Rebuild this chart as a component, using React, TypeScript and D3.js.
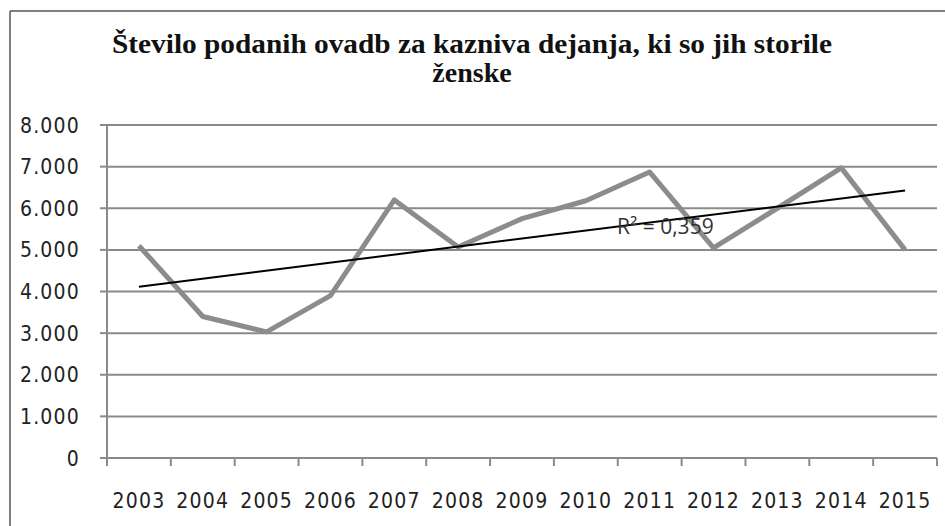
import React from "react";
import * as d3 from "d3";

const years = ["2003","2004","2005","2006","2007","2008","2009","2010","2011","2012","2013","2014","2015"];
const values = [5100, 3400, 3030, 3900, 6200, 5070, 5750, 6180, 6870, 5050, 6000, 6970, 5000];
const yTicks = [0, 1000, 2000, 3000, 4000, 5000, 6000, 7000, 8000];
const titleLines = ["Število podanih ovadb za kazniva dejanja, ki so jih storile", "ženske"];
const r2Label = "R² = 0,359";

const W = 945, H = 526;
const left = 107, right = 937, top = 125, bottom = 458;
const labelFont = "'Liberation Sans Narrow', 'DejaVu Sans Condensed', 'Liberation Sans', sans-serif";

const fmt = (v: number) => (v === 0 ? "0" : d3.format(",")(v).replace(/,/g, "."));

export default function App() {
  const x = d3.scaleBand<string>().domain(years).range([left, right]);
  const y = d3.scaleLinear().domain([0, 8000]).range([bottom, top]);
  const cx = (d: string) => (x(d) as number) + x.bandwidth() / 2;

  const line = d3.line<number>().x((_, i) => cx(years[i])).y((d) => y(d));

  // linear regression
  const n = values.length;
  const xs = values.map((_, i) => i + 1);
  const mx = d3.mean(xs) as number;
  const my = d3.mean(values) as number;
  let sxy = 0, sxx = 0;
  xs.forEach((xi, i) => { sxy += (xi - mx) * (values[i] - my); sxx += (xi - mx) ** 2; });
  const slope = sxy / sxx;
  const icpt = my - slope * mx;
  const t0 = icpt + slope * xs[0];
  const t1 = icpt + slope * xs[n - 1];

  const tickPositions = years.map((d) => x(d) as number).concat([right]);

  return (
    <svg width={W} height={H} style={{ position: "absolute", left: 0, top: 0, background: "#fff" }}>
      <rect x={0} y={0} width={W} height={H} fill="#fff" />
      <line x1={10} y1={11} x2={10} y2={H} stroke="#555" strokeWidth={1.5} />
      <line x1={10} y1={11} x2={W} y2={11} stroke="#555" strokeWidth={1.5} />

      {titleLines.map((t, i) => (
        <text key={i} x={472} y={53 + i * 29} textAnchor="middle"
          fontFamily="'Liberation Serif', serif" fontWeight="bold" fontSize={28} fill="#111"
          {...(i === 0 ? { textLength: 720, lengthAdjust: "spacingAndGlyphs" } : {})}>
          {t}
        </text>
      ))}

      {yTicks.map((t) => (
        <g key={t}>
          <line x1={left} x2={right} y1={y(t)} y2={y(t)} stroke="#8a8a8a" strokeWidth={2} />
          <line x1={left - 7} x2={left} y1={y(t)} y2={y(t)} stroke="#8a8a8a" strokeWidth={2} />
          <text x={80} y={y(t)} dy="0.36em" textAnchor="end" fontFamily={labelFont}
            fontSize={21} letterSpacing={1.2} fill="#222">{fmt(t)}</text>
        </g>
      ))}
      <line x1={left} x2={left} y1={top} y2={bottom + 8} stroke="#8a8a8a" strokeWidth={2} />
      {tickPositions.map((p, i) => (
        <line key={i} x1={p} x2={p} y1={bottom} y2={bottom + 8} stroke="#8a8a8a" strokeWidth={2} />
      ))}
      {years.map((yr) => (
        <text key={yr} x={cx(yr)} y={508} textAnchor="middle" fontFamily={labelFont}
          fontSize={21} letterSpacing={1.2} fill="#222">{yr}</text>
      ))}

      <path d={line(values) as string} fill="none" stroke="#8c8c8c" strokeWidth={5} strokeLinejoin="round" />
      <line x1={cx(years[0])} y1={y(t0)} x2={cx(years[n - 1])} y2={y(t1)} stroke="#000" strokeWidth={2} />

      <text x={617} y={234} fontFamily="'Open Sans', sans-serif" fontSize={21} fill="#333">{r2Label}</text>
    </svg>
  );
}
